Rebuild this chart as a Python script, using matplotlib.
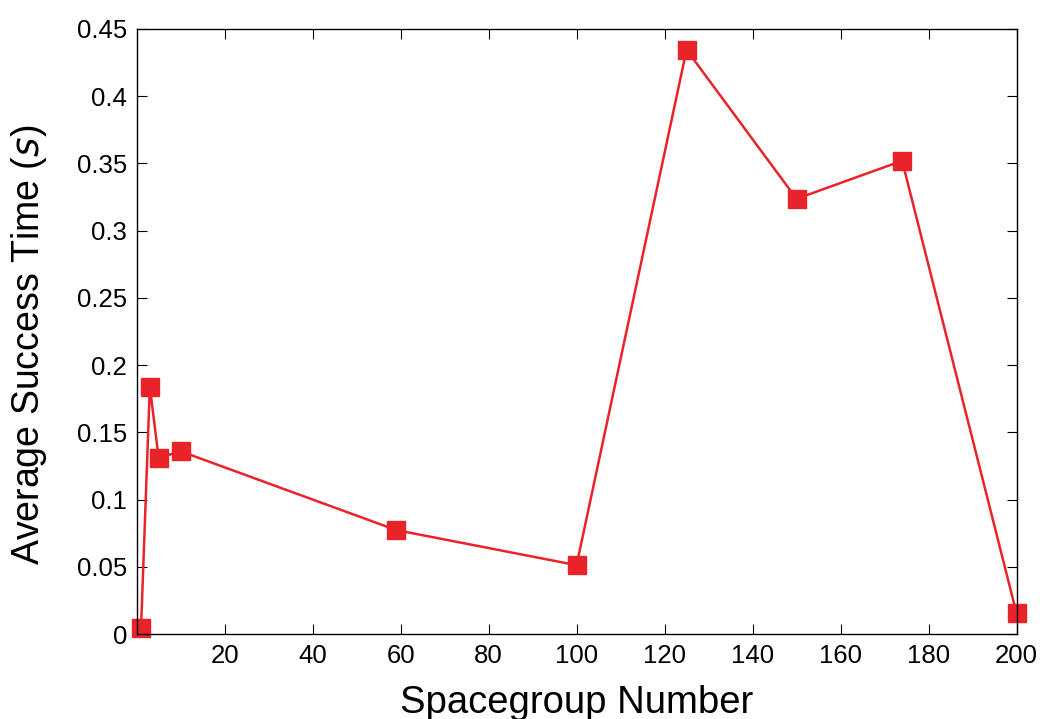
"""
Average success time per spacegroup.
"""
import numpy as np
import matplotlib
matplotlib.use("Agg")
import matplotlib.pyplot as plt

spacegroups = [1, 3, 5, 10, 59, 100, 125, 150, 174, 200]
avg_times = [0.0045, 0.184, 0.131, 0.136, 0.0774, 0.0513, 0.4345, 0.3237, 0.352, 0.0156]
x_ticks = [20, 40, 60, 80, 100, 120, 140, 160, 180, 200]
y_ticks = [0, 0.05, 0.1, 0.15, 0.2, 0.25, 0.3, 0.35, 0.4, 0.45]
y_tick_labels = ["0", "0.05", "0.1", "0.15", "0.2", "0.25", "0.3", "0.35", "0.4", "0.45"]


def plot_times():
    plt.rcParams["font.family"] = ["Liberation Sans", "DejaVu Sans"]
    fig = plt.figure(figsize=(10.43, 7.19), dpi=100)
    ax = fig.add_axes([0.131, 0.118, 0.8436, 0.8417])

    ax.plot(spacegroups, avg_times, "-s", color="#e8242a", linewidth=1.8,
            markersize=12.5, clip_on=False)

    ax.set_xlim(0, 200)
    ax.set_ylim(0, 0.45)
    ax.set_xticks(x_ticks)
    ax.set_yticks(y_ticks)
    ax.set_yticklabels(y_tick_labels)
    ax.tick_params(direction="in", top=True, right=True, length=7.5, width=0.8,
                   labelsize=18.5, pad=7)
    for spine in ax.spines.values():
        spine.set_linewidth(1.0)

    ax.set_xlabel("Spacegroup Number", fontsize=27.5, labelpad=12)
    ax.set_ylabel("Average Success Time ($s$)", fontsize=27)
    ax.yaxis.set_label_coords(-0.1, 0.478)

    fig.savefig("out.png", dpi=100)


if __name__ == "__main__":
    plot_times()
